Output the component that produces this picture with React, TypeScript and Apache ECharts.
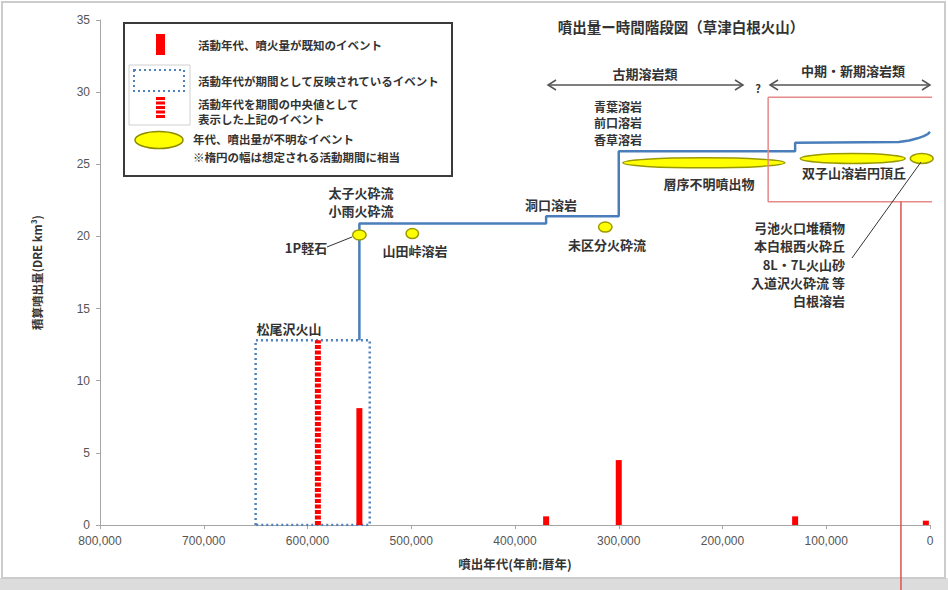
import React, { useEffect, useRef } from "react";
import * as echarts from "echarts";

// ---- data ----
const knownYears = [550000, 370000, 300000, 130000, 4000];
const knownVolumes = [8.1, 0.6, 4.5, 0.6, 0.3];

const midYears = [590000];
const midVolumes = [12.8];

const periodStart = [650000];
const periodEnd = [540000];
const periodVolume = [12.8];

const cumYears = [550000, 550000, 370000, 370000, 300000, 300000, 130000, 130000, 30000, 20000, 12000, 6000, 2000, 0];
const cumVolumes = [12.8, 20.9, 20.9, 21.4, 21.4, 25.9, 25.9, 26.5, 26.55, 26.65, 26.8, 26.95, 27.1, 27.25];

const ellipseNames = ["1P軽石", "山田峠溶岩", "未区分火砕流", "層序不明噴出物", "双子山溶岩円頂丘", "弓池火口堆積物ほか"];
const ellipseYears = [550000, 499000, 313000, 218000, 74500, 8000];
const ellipseVolumes = [20.1, 20.2, 20.65, 25.1, 25.4, 25.4];
const ellipseWidths = [13000, 12000, 13000, 156000, 101000, 22000];

const xTicks = [0, 100000, 200000, 300000, 400000, 500000, 600000, 700000, 800000];

// frame around the younger-lava group (years, volume)
const groupBoxYears = [156000, -8000];
const groupBoxVolumes = [29.65, 22.4];
const markerYear = [28000];

const FONT = '"Noto Sans CJK JP", "Noto Sans", sans-serif';
const NUMFONT = '"Liberation Sans", Arial, sans-serif';

function txt(text: string, x: number, y: number, size = 13, align = "center", weight = "bold", color = "#333") {
  return {
    type: "text",
    x,
    y,
    z: 100,
    style: {
      text,
      fill: color,
      font: `${weight} ${size}px ${FONT}`,
      align,
      verticalAlign: "middle",
      textAlign: align,
      textVerticalAlign: "middle",
    },
  };
}

export default function App() {
  const ref = useRef<HTMLDivElement>(null);
  useEffect(() => {
    if (!ref.current) return;
    const chart = echarts.init(ref.current, null, { renderer: "svg" });

    const graphic: any[] = [
      { type: "rect", z: -10, shape: { x: 0, y: 578, width: 948, height: 12 }, style: { fill: "#dcdcdc" } },
      { type: "rect", z: -10, shape: { x: 2, y: 2, width: 943, height: 576 }, style: { fill: "none", stroke: "#cccccc", lineWidth: 2 } },
      // legend
      { type: "rect", z: 50, shape: { x: 124, y: 23, width: 328, height: 153 }, style: { fill: "#fff", stroke: "#3a3a3a", lineWidth: 2 } },
      { type: "rect", z: 51, shape: { x: 156, y: 34, width: 9, height: 21 }, style: { fill: "#ff0000" } },
      { type: "rect", z: 51, shape: { x: 129, y: 65, width: 61, height: 60 }, style: { fill: "none", stroke: "#d0d0d0", lineWidth: 1 } },
      { type: "rect", z: 51, shape: { x: 134, y: 70, width: 50, height: 21 }, style: { fill: "none", stroke: "#4f81bd", lineWidth: 2, lineDash: [2, 3] } },
      { type: "line", z: 51, shape: { x1: 160.5, y1: 97, x2: 160.5, y2: 118 }, style: { stroke: "#ff0000", lineWidth: 9, lineDash: [3, 1.5] } },
      { type: "ellipse", z: 51, shape: { cx: 159, cy: 140, rx: 24, ry: 8.5 }, style: { fill: "#ffff00", stroke: "#8c8c00", lineWidth: 1.5 } },
      txt("活動年代、噴火量が既知のイベント", 198, 45, 11.5, "left"),
      txt("活動年代が期間として反映されているイベント", 198, 81, 11.5, "left"),
      txt("活動年代を期間の中央値として", 198, 104, 11.5, "left"),
      txt("表示した上記のイベント", 198, 119, 11.5, "left"),
      txt("年代、噴出量が不明なイベント", 193, 139, 11.5, "left"),
      txt("※楕円の幅は想定される活動期間に相当", 193, 157, 11.5, "left"),
      // title
      txt("噴出量ー時間階段図（草津白根火山）", 681, 26, 14.5),
      // period arrows
      { type: "line", shape: { x1: 548, y1: 85, x2: 743, y2: 85 }, style: { stroke: "#555", lineWidth: 1.5 } },
      { type: "polyline", shape: { points: [[556, 80], [548, 85], [556, 90]] }, style: { stroke: "#555", lineWidth: 1.5, fill: "none" } },
      { type: "polyline", shape: { points: [[735, 80], [743, 85], [735, 90]] }, style: { stroke: "#555", lineWidth: 1.5, fill: "none" } },
      { type: "line", shape: { x1: 770, y1: 85, x2: 930, y2: 85 }, style: { stroke: "#555", lineWidth: 1.5 } },
      { type: "polyline", shape: { points: [[778, 80], [770, 85], [778, 90]] }, style: { stroke: "#555", lineWidth: 1.5, fill: "none" } },
      { type: "polyline", shape: { points: [[922, 80], [930, 85], [922, 90]] }, style: { stroke: "#555", lineWidth: 1.5, fill: "none" } },
      txt("古期溶岩類", 645, 73, 13),
      txt("?", 758, 88, 11),
      txt("中期・新期溶岩類", 853, 70, 13),
      // labels
      txt("青葉溶岩", 618, 106, 12),
      txt("前口溶岩", 618, 122.5, 12),
      txt("香草溶岩", 618, 139, 12),
      txt("太子火砕流", 361, 192),
      txt("小雨火砕流", 361, 210),
      txt("洞口溶岩", 551, 204),
      txt("1P軽石", 306, 247),
      txt("山田峠溶岩", 415, 250),
      txt("未区分火砕流", 607, 244),
      txt("層序不明噴出物", 709, 183),
      txt("双子山溶岩円頂丘", 854, 172),
      txt("松尾沢火山", 289, 328),
      txt("弓池火口堆積物", 845, 227, 13, "right"),
      txt("本白根西火砕丘", 845, 245, 13, "right"),
      txt("8L・7L火山砂", 845, 264, 13, "right"),
      txt("入道沢火砕流 等", 845, 282, 13, "right"),
      txt("白根溶岩", 845, 300, 13, "right"),
      { type: "line", z: 60, shape: { x1: 327, y1: 247, x2: 352, y2: 237 }, style: { stroke: "#333", lineWidth: 1 } },
      { type: "line", z: 60, shape: { x1: 852, y1: 258, x2: 921, y2: 162 }, style: { stroke: "#333", lineWidth: 1 } },
    ];

    const option: any = {
      animation: false,
      backgroundColor: "#ffffff",
      grid: { left: 100, right: 18, top: 20, bottom: 65 },
      xAxis: {
        type: "value",
        min: 0,
        max: 800000,
        interval: 100000,
        inverse: true,
        name: "噴出年代(年前:暦年)",
        nameLocation: "middle",
        nameGap: 32,
        nameTextStyle: { fontFamily: FONT, fontWeight: "bold", fontSize: 12.5, color: "#333" },
        axisLine: { show: true, onZero: false, lineStyle: { color: "#a6a6a6", width: 1 } },
        axisTick: { show: true, length: 4, lineStyle: { color: "#a6a6a6" } },
        axisLabel: {
          color: "#555",
          fontFamily: NUMFONT,
          fontSize: 12,
          margin: 10,
          formatter: (v: number) => v.toLocaleString("en-US"),
          customValues: xTicks,
        },
        splitLine: { show: false },
      },
      yAxis: {
        type: "value",
        min: 0,
        max: 35,
        interval: 5,
        name: "積算噴出量(DRE km³)",
        nameLocation: "middle",
        nameRotate: 90,
        nameGap: 57,
        nameTextStyle: { fontFamily: FONT, fontWeight: "bold", fontSize: 11.5, color: "#333" },
        axisLine: { show: true, onZero: false, lineStyle: { color: "#a6a6a6", width: 1 } },
        axisTick: { show: true, length: 4, lineStyle: { color: "#a6a6a6" } },
        axisLabel: { color: "#555", fontFamily: NUMFONT, fontSize: 12, margin: 10 },
        splitLine: { show: false },
      },
      series: [
        {
          name: "period",
          type: "line",
          symbol: "none",
          z: 2,
          data: [
            [periodStart[0], 0],
            [periodStart[0], periodVolume[0]],
            [periodEnd[0], periodVolume[0]],
            [periodEnd[0], 0],
            [periodStart[0], 0],
          ],
          lineStyle: { color: "#4f81bd", width: 2.5, type: [2, 3] },
        },
        {
          name: "known",
          type: "bar",
          barWidth: 6,
          z: 3,
          data: knownYears.map((y, i) => [y, knownVolumes[i]]),
          itemStyle: { color: "#ff0000" },
        },
        {
          name: "mid",
          type: "line",
          symbol: "none",
          z: 3,
          data: [
            [midYears[0], 0],
            [midYears[0], midVolumes[0]],
          ],
          lineStyle: { color: "#ff0000", width: 6, type: [4, 1.5] },
        },
        {
          name: "cumulative",
          type: "line",
          symbol: "none",
          z: 4,
          data: cumYears.map((y, i) => [y, cumVolumes[i]]),
          lineStyle: { color: "#4a7ebb", width: 2.5 },
        },
        {
          name: "unknown",
          type: "custom",
          z: 5,
          clip: false,
          data: ellipseYears.map((y, i) => [y, ellipseVolumes[i], ellipseWidths[i], ellipseNames[i]]),
          encode: { x: 0, y: 1 },
          renderItem: (params: any, api: any) => {
            const c = api.coord([api.value(0), api.value(1)]);
            const half = api.value(2) / 2;
            const a = api.coord([api.value(0) + half, api.value(1)]);
            const b = api.coord([api.value(0) - half, api.value(1)]);
            const rx = Math.abs(b[0] - a[0]) / 2;
            return {
              type: "ellipse",
              shape: { cx: c[0], cy: c[1], rx, ry: 5 },
              style: { fill: "#ffff00", stroke: "#9a9a00", lineWidth: 1.5 },
            };
          },
        },
        {
          name: "groupFrame",
          type: "line",
          symbol: "none",
          clip: false,
          z: 6,
          data: [
            [groupBoxYears[0], groupBoxVolumes[0]],
            [groupBoxYears[1], groupBoxVolumes[0]],
            [groupBoxYears[1], groupBoxVolumes[1]],
            [groupBoxYears[0], groupBoxVolumes[1]],
            [groupBoxYears[0], groupBoxVolumes[0]],
          ],
          lineStyle: { color: "#e58a8a", width: 1.5 },
        },
        {
          name: "marker",
          type: "line",
          symbol: "none",
          clip: false,
          z: 6,
          data: [
            [markerYear[0], groupBoxVolumes[1]],
            [markerYear[0], -4.6],
          ],
          lineStyle: { color: "#d9534f", width: 1.5 },
        },
      ],
      graphic,
    };
    chart.setOption(option);
    return () => chart.dispose();
  }, []);
  return <div ref={ref} style={{ position: "absolute", left: 0, top: 0, width: 948, height: 590 }} />;
}
